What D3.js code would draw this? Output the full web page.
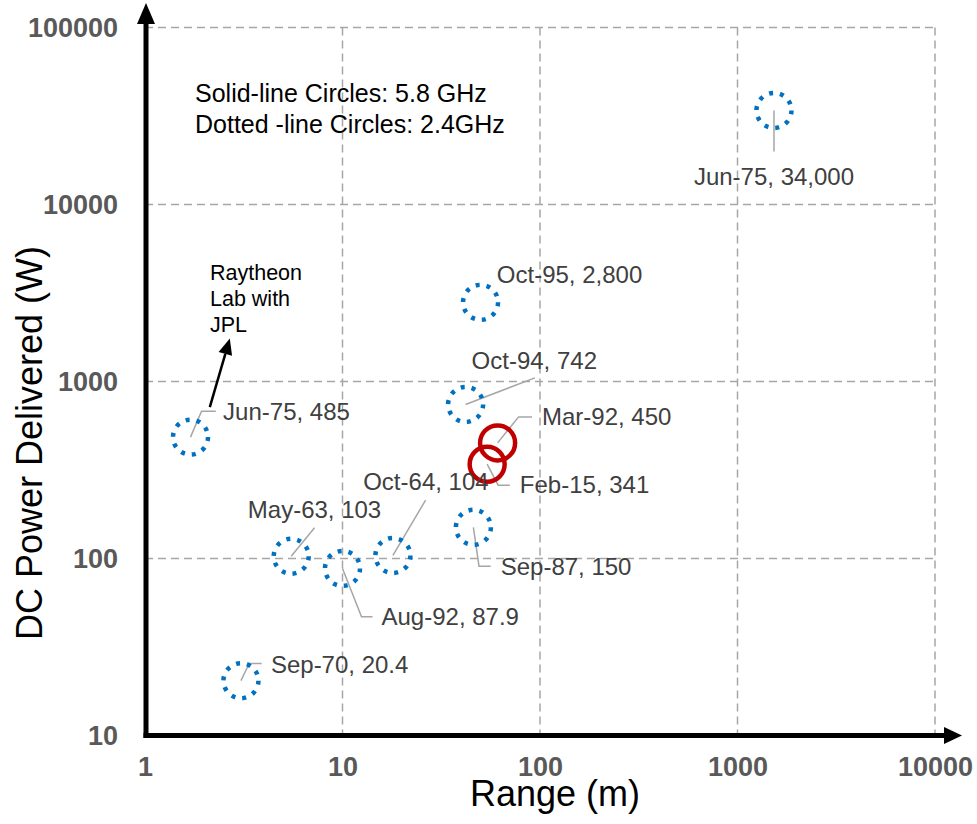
<!DOCTYPE html>
<html>
<head>
<meta charset="utf-8">
<script src="https://cdn.jsdelivr.net/npm/d3@7"></script>
<style>
  html, body { margin: 0; padding: 0; background: #fff; }
  svg { display: block; font-family: "Liberation Sans", Arial, sans-serif; }
</style>
</head>
<body>
<svg id="chart" width="977" height="824"></svg>
<script>
// ---- data ----
const dates  = ["Jun-75", "Oct-95", "Oct-94", "Mar-92", "Feb-15", "Sep-87", "Oct-64", "Aug-92", "May-63", "Jun-75", "Sep-70"];
const ranges = [1530, 50, 42, 61, 54, 46, 18, 10, 5.5, 1.7, 3.06];
const powers = [34000, 2800, 742, 450, 341, 150, 104, 87.9, 103, 485, 20.4];
const bands  = ["2.4", "2.4", "2.4", "5.8", "5.8", "2.4", "2.4", "2.4", "2.4", "2.4", "2.4"];
const xTicks = [1, 10, 100, 1000, 10000];
const yTicks = [10, 100, 1000, 10000, 100000];
const legendLines = ["Solid-line Circles: 5.8 GHz", "Dotted -line Circles: 2.4GHz"];
const noteLines = ["Raytheon", "Lab with", "JPL"];
const xTitle = "Range (m)";
const yTitle = "DC Power Delivered (W)";

// ---- label layout (offsets relative to point, px) ----
const labelLayout = [
  { leader: [[0, 41]],                 text: [0, 75, "middle"] },
  { leader: [],                        text: [16.3, -19.7, "start"] },
  { leader: [[69.3, -26.6]],           text: [6, -35.3, "start"] },
  { leader: [[21, -26], [34.4, -26]],  text: [44.4, -17.7, "start"] },
  { leader: [[11, 21], [22.7, 21]],    text: [32.7, 28.7, "start"] },
  { leader: [[5.6, 38.8], [17.3, 38.8]], text: [27.3, 47.8, "start"] },
  { leader: [[32.7, -55.4]],           text: [33, -65.4, "middle"] },
  { leader: [[19, 48.4], [30, 48.4]],  text: [39, 56.7, "start"] },
  { leader: [[23.3, -28.4]],           text: [23.3, -37.8, "middle"] },
  { leader: [[11, -25.9], [25.3, -25.9]], text: [32.6, -16.9, "start"] },
  { leader: [[8.3, -17.3], [20.7, -17.3]], text: [30, -7.6, "start"] }
];

const svg = d3.select("#chart");
const x = d3.scaleLog().domain([1, 10000]).range([145, 935]);
const y = d3.scaleLog().domain([10, 100000]).range([735.5, 27.5]);

const gridColor = "#a6a6a6";
svg.append("g").selectAll("line").data(xTicks.slice(1)).join("line")
  .attr("x1", d => x(d)).attr("x2", d => x(d))
  .attr("y1", y(100000)).attr("y2", y(10))
  .attr("stroke", gridColor).attr("stroke-width", 1.5).attr("stroke-dasharray", "8,5");
svg.append("g").selectAll("line").data(yTicks.slice(1)).join("line")
  .attr("x1", x(1)).attr("x2", x(10000))
  .attr("y1", d => y(d)).attr("y2", d => y(d))
  .attr("stroke", gridColor).attr("stroke-width", 1.5).attr("stroke-dasharray", "8,5");

const fmtTick = d3.format("d");
const xAxis = svg.append("g").attr("transform", `translate(0,${y(10)})`)
  .call(d3.axisBottom(x).tickValues(xTicks).tickFormat(fmtTick).tickSize(0).tickPadding(21));
const yAxis = svg.append("g").attr("transform", `translate(${x(1)},0)`)
  .call(d3.axisLeft(y).tickValues(yTicks).tickFormat(fmtTick).tickSize(0).tickPadding(27));
[xAxis, yAxis].forEach(a => {
  a.select(".domain").remove();
  a.selectAll("text").attr("fill", "#595959").attr("font-size", 27).attr("font-weight", "bold")
    .attr("font-family", "Liberation Sans, Arial, sans-serif");
});

const pts = dates.map((d, i) => ({ date: d, r: ranges[i], p: powers[i], band: bands[i], lay: labelLayout[i] }));
const fmtVal = d3.format(",");

svg.append("g").selectAll("polyline").data(pts.filter(d => d.lay.leader.length)).join("polyline")
  .attr("points", d => {
    const cx = x(d.r), cy = y(d.p);
    return [[cx, cy]].concat(d.lay.leader.map(o => [cx + o[0], cy + o[1]])).map(p => p.join(",")).join(" ");
  })
  .attr("fill", "none").attr("stroke", "#a6a6a6").attr("stroke-width", 1.5);

svg.append("g").selectAll("circle").data(pts).join("circle")
  .attr("cx", d => x(d.r)).attr("cy", d => y(d.p)).attr("r", 17.5)
  .attr("fill", "none")
  .attr("stroke", d => d.band === "5.8" ? "#c00000" : "#0070c0")
  .attr("stroke-width", 4.5)
  .attr("stroke-dasharray", d => d.band === "5.8" ? null : "4,7");

svg.append("g").selectAll("text").data(pts).join("text")
  .attr("x", d => x(d.r) + d.lay.text[0])
  .attr("y", d => y(d.p) + d.lay.text[1])
  .attr("text-anchor", d => d.lay.text[2])
  .attr("font-size", 24).attr("fill", "#404040")
  .text(d => `${d.date}, ${fmtVal(d.p)}`);

svg.append("g").selectAll("text").data(legendLines).join("text")
  .attr("x", 195).attr("y", (d, i) => 101.5 + i * 31.5)
  .attr("font-size", 25).attr("fill", "#000").text(d => d);

const rp = pts[9];
const ax0 = x(rp.r) + 19.3, ay0 = y(rp.p) - 30;
const ax1 = x(rp.r) + 39.3, ay1 = y(rp.p) - 98.6;
const ang = Math.atan2(ay1 - ay0, ax1 - ax0);
const headL = 16, headW = 7;
const bx = ax1 - headL * Math.cos(ang), by = ay1 - headL * Math.sin(ang);
svg.append("line").attr("x1", ax0).attr("y1", ay0).attr("x2", bx).attr("y2", by)
  .attr("stroke", "#000").attr("stroke-width", 2.5);
svg.append("path")
  .attr("d", `M${ax1},${ay1} L${bx + headW * Math.sin(ang)},${by - headW * Math.cos(ang)} L${bx - headW * Math.sin(ang)},${by + headW * Math.cos(ang)} Z`)
  .attr("fill", "#000");
svg.append("g").selectAll("text").data(noteLines).join("text")
  .attr("x", x(rp.r) + 19.5).attr("y", (d, i) => y(rp.p) - 157 + i * 26)
  .attr("font-size", 21.5).attr("fill", "#000").text(d => d);

const axW = 5;
const x0 = x(1) + 1, y0 = y(10);
svg.append("line").attr("x1", x0).attr("y1", y0 + axW / 2).attr("x2", x0).attr("y2", 22)
  .attr("stroke", "#000").attr("stroke-width", axW);
svg.append("path").attr("d", `M${x0},3 L${x0 - 9},24 L${x0 + 9},24 Z`).attr("fill", "#000");
svg.append("line").attr("x1", x0 - axW / 2).attr("y1", y0).attr("x2", 947).attr("y2", y0)
  .attr("stroke", "#000").attr("stroke-width", axW);
svg.append("path").attr("d", `M962,${y0} L944,${y0 - 8.5} L944,${y0 + 8.5} Z`).attr("fill", "#000");

svg.append("text").attr("x", 555).attr("y", 806).attr("text-anchor", "middle")
  .attr("font-size", 36).attr("fill", "#000").text(xTitle);
svg.append("text").attr("transform", "translate(42,443) rotate(-90)").attr("text-anchor", "middle")
  .attr("font-size", 36).attr("fill", "#000").text(yTitle);
</script>
</body>
</html>
